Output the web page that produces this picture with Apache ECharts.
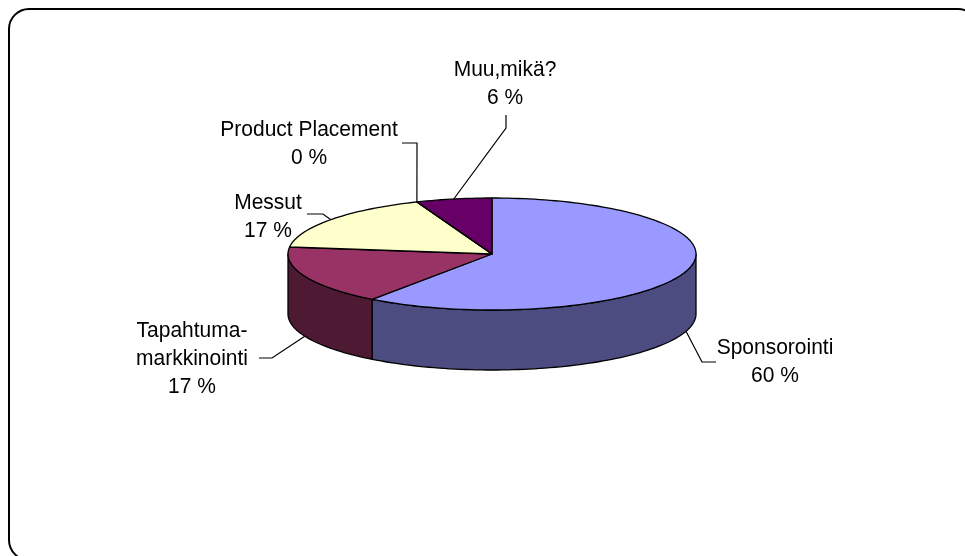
<!DOCTYPE html>
<html>
<head>
<meta charset="utf-8">
<script src="https://cdn.jsdelivr.net/npm/echarts@6/dist/echarts.min.js"></script>
<style>
  html, body { margin: 0; padding: 0; background: #ffffff; }
  #chart { width: 965px; height: 556px; }
</style>
</head>
<body>
<div id="chart"></div>
<script>
// Slice names and shares (percent)
const categories = ['Sponsorointi', 'Tapahtuma-\nmarkkinointi', 'Messut', 'Product Placement', 'Muu,mikä?'];
const shares = [60, 17, 17, 0, 6];

// Face colours: top surface and darker rim
const topColors = ['#9999FF', '#993366', '#FFFFCC', '#CCFFFF', '#660066'];
const sideColors = ['#4C4C80', '#4D1933', '#808066', '#668080', '#330033'];

// Label placement: text centre x, first baseline y, leader points from the text towards the slice
const labelLayout = [
  { x: 775, y: 355, path: [[716, 362], [702, 362]] },
  { x: 192, y: 338, path: [[259, 358], [272, 358]] },
  { x: 268, y: 210, path: [[307, 214], [323, 214]] },
  { x: 309, y: 137, path: [[402, 143], [417, 143]] },
  { x: 505, y: 77,  path: [[506, 115], [506, 128]] }
];

// Projected disc geometry
const PIE = { cx: 492, cy: 254, rx: 204, ry: 56, depth: 60 };
const FONT = '"Liberation Sans", Arial, sans-serif';

const total = shares.reduce((a, b) => a + b, 0);
const startAngles = [];
shares.reduce((acc, v) => { startAngles.push(acc); return acc + v; }, 0);

// angle in degrees, clockwise from 12 o'clock; dz pushes the point down onto the lower rim
function pt(deg, dz) {
  const r = deg * Math.PI / 180;
  return [PIE.cx + PIE.rx * Math.sin(r), PIE.cy - PIE.ry * Math.cos(r) + (dz || 0)];
}
function arc(a0, a1, dz) {
  const pts = [];
  const n = Math.max(2, Math.ceil(Math.abs(a1 - a0) / 1.5));
  for (let k = 0; k <= n; k++) pts.push(pt(a0 + (a1 - a0) * k / n, dz));
  return pts;
}

function renderItem(params, api) {
  const i = params.dataIndex;
  const value = api.value(0);
  const a0 = startAngles[i] / total * 360;
  const a1 = a0 + value / total * 360;
  const children = [];
  const stroke = { stroke: '#000000', lineWidth: 1.3, lineJoin: 'round' };

  // front rim (only the half facing the viewer is visible)
  const lo = Math.max(a0, 90), hi = Math.min(a1, 270);
  if (hi > lo) {
    const pts = arc(lo, hi, 0).concat(arc(hi, lo, PIE.depth));
    children.push({
      type: 'polygon', z2: 1,
      shape: { points: pts },
      style: Object.assign({ fill: sideColors[i] }, stroke)
    });
  }

  // top surface
  if (a1 > a0) {
    children.push({
      type: 'polygon', z2: 2,
      shape: { points: [[PIE.cx, PIE.cy]].concat(arc(a0, a1, 0)) },
      style: Object.assign({ fill: topColors[i] }, stroke)
    });
  } else {
    children.push({
      type: 'polyline', z2: 3,
      shape: { points: [[PIE.cx, PIE.cy], pt(a0, 0)] },
      style: Object.assign({ fill: null }, stroke)
    });
  }

  // leader line from the label to the slice edge at its middle angle
  const mid = (a0 + a1) / 2;
  const front = Math.cos(mid * Math.PI / 180) < 0;
  const anchor = pt(mid, front ? PIE.depth : 0);
  const lay = labelLayout[i];
  children.push({
    type: 'polyline', z2: 4,
    shape: { points: lay.path.concat([anchor]) },
    style: { fill: null, stroke: '#000000', lineWidth: 1.2 }
  });

  // label text: name lines plus percentage
  const pct = Math.round(value / total * 100) + ' %';
  const lines = categories[i].split('\n').concat([pct]);
  lines.forEach((t, k) => {
    children.push({
      type: 'text', z2: 5,
      x: lay.x, y: lay.y + k * 28 - 7,
      scaleY: 1.08,
      style: {
        text: t, fill: '#000000', font: '21px ' + FONT,
        align: 'center', verticalAlign: 'middle'
      }
    });
  });

  return { type: 'group', children: children };
}

const chart = echarts.init(document.getElementById('chart'), null, { renderer: 'canvas' });
chart.setOption({
  backgroundColor: '#ffffff',
  animation: false,
  graphic: [{
    type: 'rect',
    shape: { x: 9, y: 9, width: 969, height: 551, r: 20 },
    style: { fill: null, stroke: '#000000', lineWidth: 2 },
    z: -1
  }],
  series: [{
    type: 'custom',
    coordinateSystem: 'none',
    renderItem: renderItem,
    data: shares.map((v, i) => ({ name: categories[i], value: [v] }))
  }]
});
</script>
</body>
</html>
